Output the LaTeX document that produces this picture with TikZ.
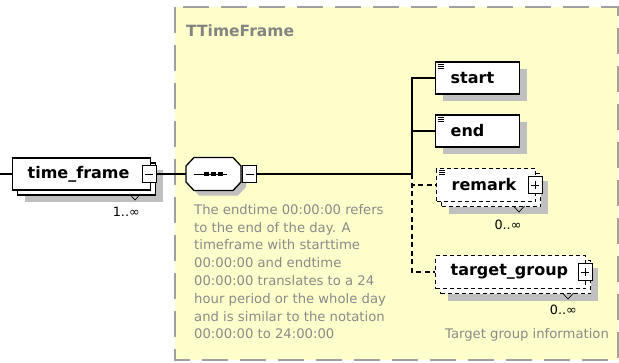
\documentclass[tikz,border=0pt]{standalone}
\usepackage{fontspec}
\setmainfont{DejaVu Sans}
\usetikzlibrary{shadows}
\definecolor{notefill}{HTML}{FFFFCC}
\definecolor{noteline}{HTML}{A0A0A0}
\definecolor{notetext}{HTML}{8A8A8A}
\definecolor{shade}{HTML}{C0C0C0}

% three little lines in the top left corner of an element
\newcommand\docicon[1]{%
  \foreach \k in {0,1,2}
    \draw[line width=0.7pt] ([shift={(2.5,2.5+2*\k)}]#1.north west) -- ++(6.5,0);
}

\begin{document}
\begin{tikzpicture}[x=1pt, y=-1pt,
  elem/.style={draw, line width=1.3pt, fill=white, minimum height=32pt,
    inner xsep=15pt, inner ysep=0pt, align=left,
    font=\fontsize{16}{18}\selectfont\bfseries},
  single/.style={elem, drop shadow={shadow xshift=7pt, shadow yshift=-7pt, fill=shade, opacity=1}},
  many/.style={elem, drop shadow={shadow xshift=12pt, shadow yshift=-12pt, fill=shade, opacity=1},
    copy shadow={shadow xshift=5pt, shadow yshift=-5pt}},
  optional/.style={dash pattern=on 4pt off 3pt},
  optwire/.style={dash pattern=on 5pt off 3.5pt},
  toggle/.style={draw, line width=1pt, fill=white, minimum width=14pt, minimum height=17pt, inner sep=0pt},
  wire/.style={line width=1.1pt},
  note/.style={inner sep=0pt, text=notetext, font=\fontsize{13.2}{17.8}\selectfont},
  occ/.style={inner sep=0pt, font=\fontsize{12.8}{15}\selectfont},
  occmark/.pic={\draw[line width=0.7pt] (-5.5,0) -- (0,6) -- (5.5,0);}]

\useasboundingbox (0,0) rectangle (619,362);

% complex type area
\draw[noteline, line width=1.5pt, dash pattern=on 26pt off 12pt, fill=notefill]
  (175,7) rectangle (618,360);
\node[note, anchor=west, text=notetext!95!black, font=\fontsize{15.5}{18}\selectfont\bfseries]
  (ctitle) at (186,31) {TTimeFrame};

% free ends of the wires
\coordinate (src) at (0,174);
\coordinate (bus) at (412,174);

% root element
\node[many, text width=108pt, anchor=west] (tf) at (12,174) {time\_frame};
\pic at (135,194) {occmark};
\node[occ, anchor=east] (tfocc) at (140,212) {1..∞};

% sequence: octagon round an empty node
\node[minimum width=55pt, minimum height=33pt, inner sep=0pt] (seq) at (213.5,174) {};
\draw[shift={(seq.center)}, line width=1.3pt, fill=white,
  drop shadow={shadow xshift=5pt, shadow yshift=-5pt, fill=shade, opacity=1}]
  (-27.5,-8) -- (-19.5,-16.5) -- (19.5,-16.5) -- (27.5,-8)
  -- (27.5,8) -- (19.5,16.5) -- (-19.5,16.5) -- (-27.5,8) -- cycle;
\draw[line width=1pt] ([xshift=-20pt]seq.center) -- ([xshift=13pt]seq.center);
\foreach \k in {-7,0,7}
  \fill[shift={(seq.center)}] (\k-2.5,-2) rectangle (\k+2.5,2);

% child elements
\node[single, text width=54pt, anchor=west] (start) at (435,78) {start};
\node[single, text width=54pt, anchor=west] (end) at (435,131) {end};
\node[many, optional, text width=69pt, anchor=west, minimum height=33pt] (remark) at (436,185) {remark};
\node[many, optional, text width=120pt, anchor=west, minimum height=33pt] (target) at (435,272) {target\_group};
\docicon{start}
\docicon{end}
\docicon{remark}
\pic at (519,206) {occmark};
\pic at (568,293) {occmark};

% expand and collapse boxes
\node[toggle] (tfsw) at ([xshift=-2pt]tf.east) {};
\draw[line width=1pt] ([xshift=-4pt]tfsw.center) -- ([xshift=4pt]tfsw.center);
\node[toggle] (seqsw) at (249.5,174) {};
\draw[line width=1pt] ([xshift=-4pt]seqsw.center) -- ([xshift=4pt]seqsw.center);
\node[toggle] (remsw) at ([xshift=-1pt]remark.east) {};
\draw[line width=1pt] ([xshift=-4pt]remsw.center) -- ([xshift=4pt]remsw.center)
  ([yshift=-4pt]remsw.center) -- ([yshift=4pt]remsw.center);
\node[toggle] (tgsw) at ([xshift=-1pt]target.east) {};
\draw[line width=1pt] ([xshift=-4pt]tgsw.center) -- ([xshift=4pt]tgsw.center)
  ([yshift=-4pt]tgsw.center) -- ([yshift=4pt]tgsw.center);

% wires
\draw[wire] (src) -- (tf.west);
\draw[wire] (tfsw.east) -- (seq.west);
\draw[wire] (seqsw.east) -- (bus);
\draw[wire] (bus) |- (start.west);
\draw[wire] (bus) |- (end.west);
\draw[wire, optwire] (bus) |- (remark.west);
\draw[wire, optwire] (bus) |- (target.west);

% occurrences and notes
\node[occ] (remocc) at (508,225) {0..∞};
\node[occ, anchor=east] (tgocc) at (577,310) {0..∞};
\node[note, anchor=north west, align=left] (doc) at (194,204)
  {The endtime 00:00:00 refers\\
   to the end of the day. A\\
   timeframe with starttime\\
   00:00:00 and endtime\\
   00:00:00 translates to a 24\\
   hour period or the whole day\\
   and is similar to the notation\\
   00:00:00 to 24:00:00};
\node[note] (tgdoc) at (527,335) {Target group information};

\end{tikzpicture}
\end{document}
